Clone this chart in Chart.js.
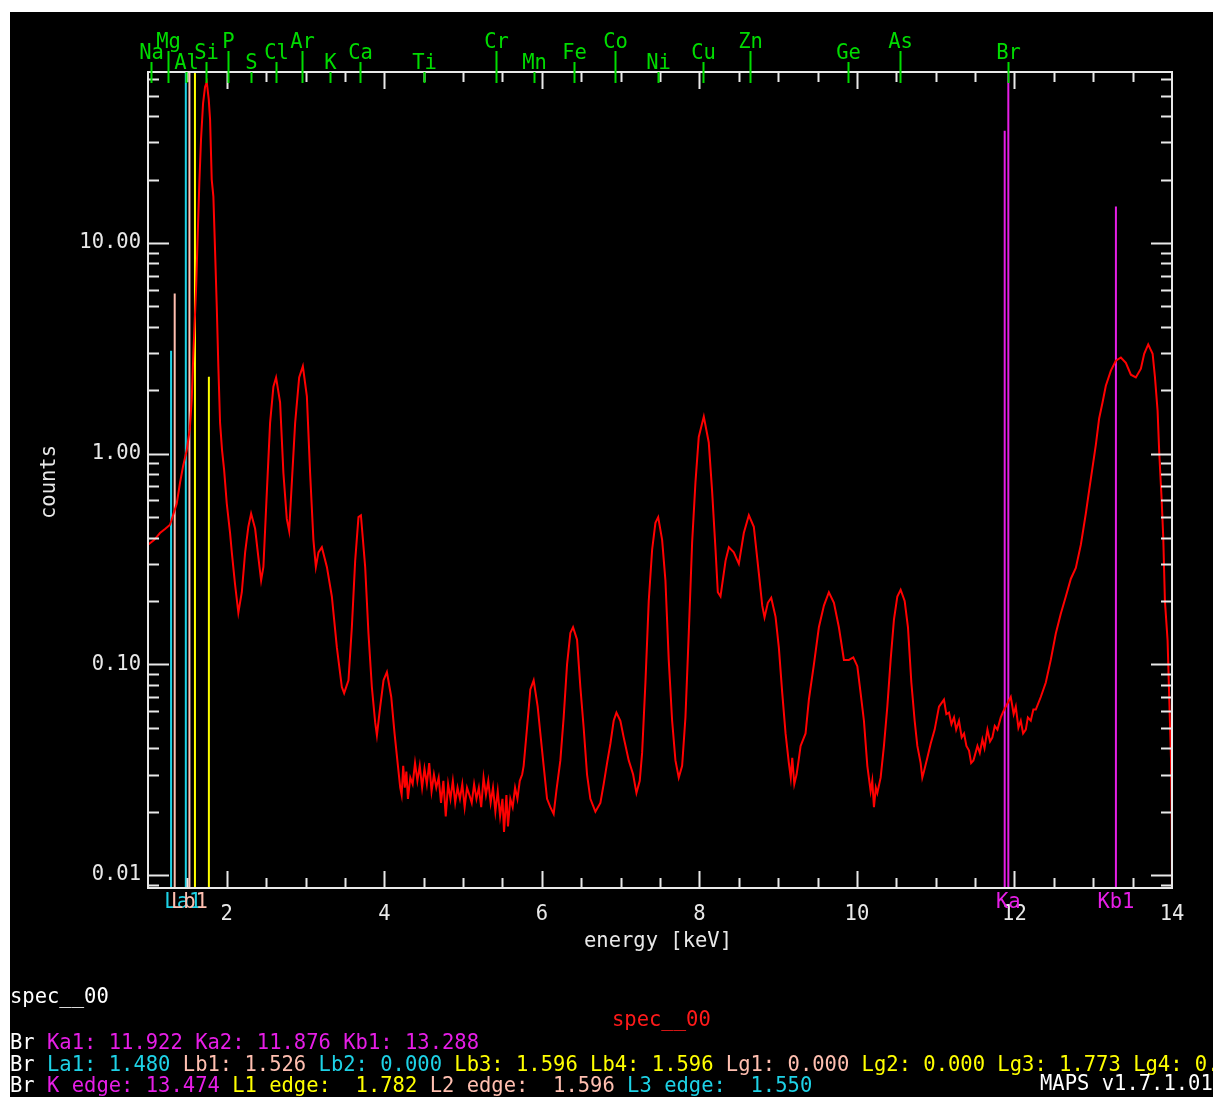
<!DOCTYPE html>
<html>
<head>
<meta charset="utf-8">
<script src="https://cdn.jsdelivr.net/npm/chart.js@4.4.1/dist/chart.umd.min.js"></script>
<style>
html, body { margin: 0; padding: 0; background: #fff; }
#frame { position: absolute; left: 10px; top: 12px; width: 1203px; height: 1085px; background: #000; overflow: hidden; }
canvas { display: block; }
</style>
</head>
<body>
<div id="frame"><canvas id="spec" width="1203" height="1085"></canvas></div>
<script>
// measured spectrum (energy in keV, counts)
const energy = [
    1.000, 1.080, 1.152, 1.220, 1.280, 1.365, 1.407, 1.445, 1.492, 1.530,
    1.555, 1.576, 1.610, 1.632, 1.652, 1.673, 1.699, 1.724, 1.746, 1.771,
    1.788, 1.809, 1.830, 1.851, 1.873, 1.893, 1.915, 1.940, 1.966, 2.000,
    2.042, 2.064, 2.105, 2.147, 2.191, 2.233, 2.274, 2.309, 2.360, 2.402,
    2.436, 2.465, 2.508, 2.550, 2.592, 2.626, 2.677, 2.719, 2.762, 2.792,
    2.826, 2.868, 2.919, 2.966, 3.017, 3.058, 3.100, 3.131, 3.164, 3.207,
    3.271, 3.334, 3.398, 3.461, 3.490, 3.545, 3.588, 3.630, 3.672, 3.703,
    3.757, 3.799, 3.842, 3.884, 3.906, 3.948, 3.990, 4.033, 4.088, 4.130,
    4.173, 4.202,
    4.22, 4.24, 4.26, 4.28, 4.30, 4.33, 4.36, 4.39, 4.42, 4.45,
    4.48, 4.51, 4.54, 4.57, 4.60, 4.63, 4.66, 4.69, 4.72, 4.75,
    4.78, 4.81, 4.84, 4.87, 4.90, 4.93, 4.96, 4.99, 5.02, 5.05,
    5.08, 5.11, 5.14, 5.17, 5.20, 5.23, 5.26, 5.29, 5.32, 5.35,
    5.38, 5.41, 5.44, 5.47, 5.50, 5.52, 5.55, 5.57, 5.60, 5.63,
    5.66, 5.69, 5.72, 5.75,
    5.769, 5.812, 5.854, 5.896, 5.947, 5.981, 6.023, 6.066, 6.108, 6.150,
    6.184, 6.235, 6.277, 6.320, 6.362, 6.396, 6.447, 6.489, 6.531, 6.574,
    6.616, 6.680, 6.743, 6.785, 6.828, 6.870, 6.912, 6.947, 6.997, 7.039,
    7.103, 7.159, 7.201, 7.243, 7.273, 7.315, 7.357, 7.400, 7.442, 7.477,
    7.527, 7.569, 7.611, 7.654, 7.696, 7.738, 7.781, 7.823, 7.865, 7.908,
    7.950, 7.992, 8.056, 8.119, 8.161, 8.205, 8.234, 8.268, 8.332, 8.374,
    8.437, 8.501, 8.564, 8.628, 8.691, 8.755, 8.798, 8.827, 8.869, 8.912,
    8.967, 9.009, 9.052, 9.094, 9.136, 9.160, 9.179, 9.205, 9.234, 9.260,
    9.285, 9.348, 9.390, 9.454, 9.517, 9.581, 9.644, 9.708, 9.771, 9.835,
    9.898, 9.954, 10.005, 10.047, 10.089, 10.132, 10.174, 10.195, 10.216, 10.240,
    10.259, 10.301, 10.343, 10.386, 10.428, 10.470, 10.513, 10.555, 10.606, 10.648,
    10.691, 10.733, 10.767, 10.809, 10.830, 10.851, 10.894, 10.936, 10.987, 11.042,
    11.105, 11.135, 11.169, 11.200, 11.233, 11.260, 11.296, 11.330, 11.360, 11.390,
    11.423, 11.450, 11.479, 11.530, 11.560, 11.593, 11.620, 11.657, 11.690, 11.720,
    11.750, 11.784, 11.826, 11.860, 11.890, 11.953, 11.990, 12.017, 12.050, 12.080,
    12.110, 12.144, 12.170, 12.207, 12.240, 12.271, 12.334, 12.398, 12.461, 12.525,
    12.588, 12.652, 12.716, 12.779, 12.843, 12.906, 12.948, 12.991, 13.033, 13.075,
    13.118, 13.160, 13.224, 13.287, 13.351, 13.414, 13.478, 13.541, 13.605, 13.647,
    13.698, 13.754, 13.783, 13.817, 13.838, 13.868, 13.889, 13.910, 13.944, 13.965,
    13.987, 13.996, 14.000
];
const counts = [
    0.37, 0.39, 0.42, 0.44, 0.46, 0.58, 0.73, 0.87, 1.04, 1.3,
    1.8, 3.0, 6.0, 11.2, 19.4, 31, 46, 55, 58, 48,
    38.6, 20, 16.6, 9.3, 5.0, 2.6, 1.4, 1.04, 0.84, 0.58,
    0.42, 0.34, 0.24, 0.176, 0.22, 0.34, 0.45, 0.52, 0.44, 0.32,
    0.25, 0.29, 0.65, 1.4, 2.08, 2.3, 1.75, 0.81, 0.49, 0.43,
    0.73, 1.4, 2.3, 2.6, 1.87, 0.81, 0.39, 0.29, 0.34, 0.36,
    0.29, 0.21, 0.12, 0.078, 0.073, 0.084, 0.15, 0.31, 0.50, 0.51,
    0.29, 0.14, 0.078, 0.053, 0.046, 0.063, 0.084, 0.092, 0.070, 0.047,
    0.033, 0.026,
    0.024, 0.033, 0.026, 0.031, 0.023, 0.029, 0.027, 0.034, 0.028, 0.033,
    0.026, 0.032, 0.027, 0.034, 0.025, 0.030, 0.026, 0.029, 0.022, 0.028,
    0.019, 0.027, 0.023, 0.028, 0.022, 0.026, 0.023, 0.027, 0.021, 0.026,
    0.024, 0.022, 0.027, 0.023, 0.026, 0.021, 0.029, 0.024, 0.028, 0.022,
    0.026, 0.020, 0.025, 0.019, 0.023, 0.016, 0.024, 0.017, 0.023, 0.021,
    0.026, 0.023, 0.028, 0.030,
    0.033, 0.050, 0.076, 0.084, 0.063, 0.047, 0.033, 0.023, 0.021, 0.0195,
    0.025, 0.035, 0.056, 0.10, 0.141, 0.15, 0.131, 0.078, 0.050, 0.030,
    0.023, 0.020, 0.022, 0.027, 0.034, 0.042, 0.054, 0.059, 0.054, 0.045,
    0.035, 0.030, 0.0245, 0.028, 0.038, 0.082, 0.20, 0.35, 0.47, 0.50,
    0.39, 0.25, 0.105, 0.054, 0.035, 0.029, 0.033, 0.056, 0.14, 0.38,
    0.73, 1.2, 1.5, 1.13, 0.67, 0.35, 0.22, 0.21, 0.31, 0.36,
    0.34, 0.30, 0.42, 0.51, 0.45, 0.27, 0.19, 0.167, 0.196, 0.207,
    0.168, 0.12, 0.073, 0.047, 0.034, 0.029, 0.036, 0.027, 0.030, 0.035,
    0.041, 0.047, 0.068, 0.10, 0.15, 0.19, 0.22, 0.196, 0.15, 0.105,
    0.105, 0.108, 0.098, 0.073, 0.054, 0.033, 0.025, 0.028, 0.021, 0.026,
    0.0245, 0.029, 0.041, 0.063, 0.105, 0.163, 0.21, 0.226, 0.20, 0.15,
    0.082, 0.054, 0.041, 0.034, 0.029, 0.031, 0.036, 0.042, 0.049, 0.063,
    0.068, 0.058, 0.059, 0.052, 0.056, 0.049, 0.054, 0.045, 0.047, 0.041,
    0.039, 0.034, 0.035, 0.041, 0.038, 0.044, 0.040, 0.049, 0.043, 0.045,
    0.051, 0.049, 0.056, 0.060, 0.063, 0.070, 0.058, 0.063, 0.050, 0.054,
    0.047, 0.049, 0.056, 0.054, 0.061, 0.061, 0.070, 0.082, 0.105, 0.14,
    0.174, 0.21, 0.255, 0.287, 0.37, 0.52, 0.67, 0.86, 1.10, 1.47,
    1.75, 2.1, 2.48, 2.76, 2.86, 2.7, 2.37, 2.30, 2.53, 2.98,
    3.3, 2.98, 2.32, 1.6, 1.01, 0.61, 0.40, 0.20, 0.13, 0.069,
    0.036, 0.0175, 0.008
];

// element K-alpha positions shown along the top axis
const elementNames = ['Na', 'Mg', 'Al', 'Si', 'P', 'S', 'Cl', 'Ar', 'K', 'Ca', 'Ti',
                      'Cr', 'Mn', 'Fe', 'Co', 'Ni', 'Cu', 'Zn', 'Ge', 'As', 'Br'];
const elementEnergies = [1.041, 1.254, 1.487, 1.740, 2.013, 2.307, 2.622, 2.957, 3.313, 3.691, 4.510,
                         5.414, 5.898, 6.403, 6.930, 7.478, 8.047, 8.638, 9.886, 10.543, 11.924];

// Br emission lines (null height = runs to top of plot)
const lineNames = ['Ll', 'Ln', 'La1', 'Lb1', 'Lb3', 'Lg3', 'Ka2', 'Ka1', 'Kb1'];
const lineEnergies = [1.293, 1.339, 1.480, 1.526, 1.596, 1.773, 11.876, 11.922, 13.288];
const lineHeights = [3.08, 5.75, null, null, null, 2.32, 34.1, null, 14.9];

// axis ticks
const xTickValues = [2, 4, 6, 8, 10, 12, 14];
const xTickLabels = ['2', '4', '6', '8', '10', '12', '14'];
const yTickValues = [10, 1, 0.1, 0.01];
const yTickLabels = ['10.00', '1.00', '0.10', '0.01'];

const X_MIN = 1, X_MAX = 14;
const Y_MIN = 0.00868, Y_MAX = 64.8;

const FONT = '20.5px "DejaVu Sans Mono", monospace';
const AXIS_COLOR = '#e8e8e8';
const GREEN = '#00dc00';
const MAGENTA = '#e61ee6';
const CYAN = '#1ed2e6';
const PINK = '#ffbfb0';
const YELLOW = '#ffff00';
const LINE_COLORS = { Ll: CYAN, Ln: PINK, La1: CYAN, Lb1: PINK, Lb3: YELLOW, Lg3: YELLOW,
                      Ka2: MAGENTA, Ka1: MAGENTA, Kb1: MAGENTA };
// stagger of element labels: h = high, m = middle, l = low
const ELEMENT_ROWS = 'mhlmhlmhlmlhlmhlmhmhm';

function drawSegments(ctx, segments, x, y) {
    segments.forEach(([text, color]) => {
        ctx.fillStyle = color;
        ctx.fillText(text, x, y);
        x += ctx.measureText(text).width;
    });
}

const idlAxes = {
    id: 'idlAxes',
    afterDraw(chart) {
        const { ctx, chartArea: a, scales: { x, y } } = chart;
        ctx.save();
        ctx.font = FONT;
        ctx.textBaseline = 'middle';

        // frame
        ctx.strokeStyle = AXIS_COLOR;
        ctx.lineWidth = 2;
        ctx.strokeRect(a.left, a.top, a.right - a.left, a.bottom - a.top);

        // x ticks, top and bottom
        ctx.beginPath();
        for (let e = 1.5; e < X_MAX; e += 0.5) {
            const px = Math.round(x.getPixelForValue(e)) + 0.5;
            const len = e % 2 === 0 ? 17 : 10;
            ctx.moveTo(px, a.bottom); ctx.lineTo(px, a.bottom - len);
            ctx.moveTo(px, a.top); ctx.lineTo(px, a.top + len);
        }
        // y ticks, left and right
        for (let k = -3; k <= 1; k++) {
            for (let m = 1; m <= 9; m++) {
                const v = m * Math.pow(10, k);
                if (v < Y_MIN || v > Y_MAX) continue;
                const py = Math.round(y.getPixelForValue(v)) + 0.5;
                const len = m === 1 ? 21 : 11;
                ctx.moveTo(a.left, py); ctx.lineTo(a.left + len, py);
                ctx.moveTo(a.right, py); ctx.lineTo(a.right - len, py);
            }
        }
        ctx.stroke();

        // tick labels
        ctx.fillStyle = AXIS_COLOR;
        ctx.textAlign = 'center';
        xTickValues.forEach((v, i) => ctx.fillText(xTickLabels[i], x.getPixelForValue(v), a.bottom + 27));
        ctx.textAlign = 'right';
        yTickValues.forEach((v, i) => ctx.fillText(yTickLabels[i], a.left - 7, y.getPixelForValue(v)));

        // axis titles
        ctx.textAlign = 'center';
        ctx.fillText('energy [keV]', (a.left + a.right) / 2 - 2, a.bottom + 54);
        ctx.save();
        ctx.translate(a.left - 98, a.top + 410);
        ctx.rotate(-Math.PI / 2);
        ctx.fillText('counts', 0, 0);
        ctx.restore();

        // element markers above the plot
        const rowOffset = { h: -29, m: -18, l: -8 };
        ctx.strokeStyle = GREEN;
        ctx.fillStyle = GREEN;
        ctx.lineWidth = 2;
        elementNames.forEach((name, i) => {
            const px = Math.round(x.getPixelForValue(elementEnergies[i])) + 0.5;
            const ty = a.top + rowOffset[ELEMENT_ROWS[i]];
            ctx.beginPath();
            ctx.moveTo(px, ty + 8);
            ctx.lineTo(px, a.top + 11);
            ctx.stroke();
            ctx.fillText(name, px, ty);
        });

        // line labels under the axis
        ctx.fillStyle = CYAN;
        ctx.fillText('La1', x.getPixelForValue(lineEnergies[2]) - 3, a.bottom + 15);
        ctx.fillStyle = PINK;
        ctx.fillText('Lb1', x.getPixelForValue(lineEnergies[3]), a.bottom + 15);
        ctx.fillStyle = MAGENTA;
        ctx.fillText('Ka', x.getPixelForValue(lineEnergies[7]), a.bottom + 15);
        ctx.fillText('Kb1', x.getPixelForValue(lineEnergies[8]), a.bottom + 15);

        // text block below the plot
        ctx.textAlign = 'left';
        ctx.fillStyle = '#ffffff';
        ctx.fillText('spec__00', 0, 986);
        ctx.fillStyle = '#ff1a1a';
        ctx.fillText('spec__00', 602, 1009);
        const W = '#ffffff';
        drawSegments(ctx, [['Br ', W], ['Ka1: 11.922 Ka2: 11.876 Kb1: 13.288', MAGENTA]], 0, 1032);
        drawSegments(ctx, [['Br ', W], ['La1: 1.480 ', CYAN], ['Lb1: 1.526 ', PINK], ['Lb2: 0.000 ', CYAN],
            ['Lb3: 1.596 Lb4: 1.596 ', YELLOW], ['Lg1: 0.000 ', PINK],
            ['Lg2: 0.000 Lg3: 1.773 Lg4: 0.000', YELLOW]], 0, 1054);
        drawSegments(ctx, [['Br ', W], ['K edge: 13.474 ', MAGENTA], ['L1 edge:  1.782 ', YELLOW],
            ['L2 edge:  1.596 ', PINK], ['L3 edge:  1.550', CYAN]], 0, 1075);
        ctx.fillStyle = W;
        ctx.fillText('MAPS v1.7.1.01', 1030, 1073);
        ctx.restore();
    }
};

const datasets = [{
    label: 'spec__00',
    data: energy.map((e, i) => ({ x: e, y: counts[i] })),
    borderColor: '#ff0000',
    borderWidth: 2,
    pointRadius: 0,
    tension: 0
}];
lineNames.forEach((name, i) => {
    datasets.push({
        label: name,
        data: [{ x: lineEnergies[i], y: Y_MIN }, { x: lineEnergies[i], y: lineHeights[i] === null ? Y_MAX : lineHeights[i] }],
        borderColor: LINE_COLORS[name],
        borderWidth: 2,
        pointRadius: 0
    });
});

new Chart(document.getElementById('spec').getContext('2d'), {
    type: 'line',
    data: { datasets },
    options: {
        responsive: false,
        animation: false,
        devicePixelRatio: 1,
        layout: { padding: { left: 138, top: 60, right: 41, bottom: 209 } },
        plugins: { legend: { display: false }, tooltip: { enabled: false } },
        scales: {
            x: { type: 'linear', min: X_MIN, max: X_MAX, display: false },
            y: { type: 'logarithmic', min: Y_MIN, max: Y_MAX, display: false }
        }
    },
    plugins: [idlAxes]
});
</script>
</body>
</html>
